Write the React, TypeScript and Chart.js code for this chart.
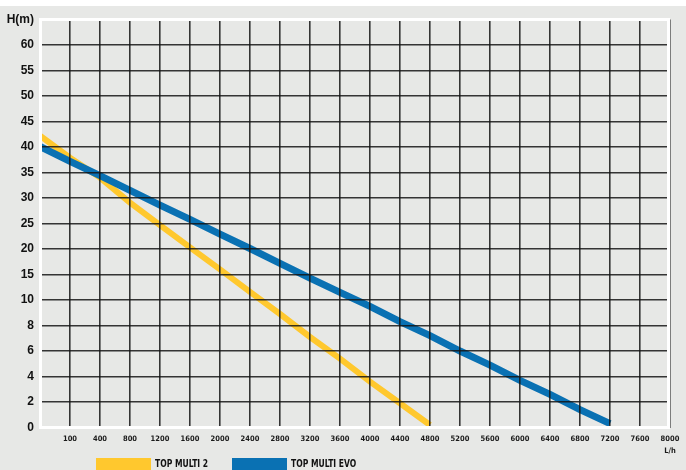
import React, { useEffect, useRef } from "react";
import { Chart, registerables } from "chart.js";

Chart.register(...registerables);

// ---- data ----
const FLOW_TICKS = [0, 100, 400, 800, 1200, 1600, 2000, 2400, 2800, 3200, 3600, 4000, 4400, 4800, 5200, 5600, 6000, 6400, 6800, 7200, 7600, 8000];
const HEAD_TICKS = [0, 2, 4, 6, 8, 10, 15, 20, 25, 30, 35, 40, 45, 50, 55, 60, 65];
const FLOW_UNIT = "L/h";
const HEAD_UNIT = "H(m)";

const MULTI2_NAME = "TOP MULTI 2";
const MULTI2_FLOW = [0, 100, 400, 800, 1200, 1600, 2000, 2400, 2800, 3200, 3600, 4000, 4400, 4800];
const MULTI2_HEAD = [42.2, 37.9, 34.0, 29.1, 24.7, 20.3, 16.0, 11.6, 8.9, 7.1, 5.4, 3.6, 1.9, 0.2];

const EVO_NAME = "TOP MULTI EVO";
const EVO_FLOW = [0, 100, 400, 800, 1200, 1600, 2000, 2400, 2800, 3200, 3600, 4000, 4400, 4800, 5200, 5600, 6000, 6400, 6800, 7200];
const EVO_HEAD = [40.1, 37.2, 34.4, 31.5, 28.6, 25.8, 22.9, 20.1, 17.2, 14.3, 11.5, 9.5, 8.3, 7.2, 6.0, 4.9, 3.7, 2.6, 1.4, 0.3];

const YELLOW = "#FFC82E";
const BLUE = "#0A71B3";
const BG = "#e7e8e6";

// piecewise mapping of a value onto the evenly spaced tick index axis
function toPos(v: number, ticks: number[]): number {
  for (let i = 1; i < ticks.length; i++) {
    if (v <= ticks[i]) {
      return i - 1 + (v - ticks[i - 1]) / (ticks[i] - ticks[i - 1]);
    }
  }
  return ticks.length - 1;
}

function series(flows: number[], heads: number[]) {
  return flows.map((f, i) => ({ x: toPos(f, FLOW_TICKS), y: toPos(heads[i], HEAD_TICKS) }));
}

const LABEL_FONT = '"Liberation Sans Narrow", "DejaVu Sans Condensed", "Liberation Sans", sans-serif';

const framePlugin = {
  id: "whiteFrame",
  afterDraw(chart: any) {
    const { ctx, chartArea } = chart;
    ctx.save();
    ctx.strokeStyle = "#ffffff";
    ctx.lineWidth = 3;
    ctx.strokeRect(chartArea.left + 0.5, chartArea.top, chartArea.right - chartArea.left - 2, chartArea.bottom - chartArea.top);
    ctx.restore();
  },
};

export default function App() {
  const ref = useRef<HTMLCanvasElement | null>(null);

  useEffect(() => {
    if (!ref.current) return;
    const chart = new Chart(ref.current, {
      type: "line",
      data: {
        datasets: [
          {
            label: MULTI2_NAME,
            data: series(MULTI2_FLOW, MULTI2_HEAD),
            borderColor: YELLOW,
            backgroundColor: YELLOW,
            borderWidth: 6,
            pointRadius: 0,
            tension: 0,
            order: 2,
          },
          {
            label: EVO_NAME,
            data: series(EVO_FLOW, EVO_HEAD),
            borderColor: BLUE,
            backgroundColor: BLUE,
            borderWidth: 7,
            pointRadius: 0,
            tension: 0,
            order: 1,
          },
        ],
      },
      options: {
        responsive: false,
        animation: false,
        layout: { padding: { top: 19.5, right: 16, left: 0, bottom: 0 } },
        plugins: {
          legend: { display: false },
          tooltip: { enabled: false },
        },
        scales: {
          x: {
            type: "linear",
            min: 0,
            max: FLOW_TICKS.length - 1,
            afterFit(scale: any) {
              scale.height = 42.5;
            },
            border: { display: false },
            grid: {
              color: "rgba(20,20,20,0.85)",
              lineWidth: 1.6,
              drawTicks: false,
              z: 1,
            },
            ticks: {
              stepSize: 1,
              autoSkip: false,
              maxRotation: 0,
              padding: 5,
              color: "#1a1a1a",
              font: { family: LABEL_FONT, size: 7.5, weight: "bold", lineHeight: 1.65 },
              callback: (v: any) => {
                const i = Math.round(Number(v));
                if (i === 0) return "";
                if (i === FLOW_TICKS.length - 1) return [String(FLOW_TICKS[i]), FLOW_UNIT];
                return String(FLOW_TICKS[i]);
              },
            },
          },
          y: {
            type: "linear",
            min: 0,
            max: HEAD_TICKS.length - 1,
            afterFit(scale: any) {
              scale.width = 40;
            },
            border: { display: false },
            grid: {
              color: "rgba(20,20,20,0.85)",
              lineWidth: 1.6,
              drawTicks: false,
              z: 1,
            },
            ticks: {
              stepSize: 1,
              autoSkip: false,
              padding: 6,
              color: "#111111",
              font: { family: '"Liberation Sans", Arial, sans-serif', size: 12, weight: "bold" },
              callback: (v: any) => {
                const i = Math.round(Number(v));
                if (i === HEAD_TICKS.length - 1) return HEAD_UNIT;
                return String(HEAD_TICKS[i]);
              },
            },
          },
        },
      },
      plugins: [framePlugin],
    } as any);
    return () => chart.destroy();
  }, []);

  const legendItems = [
    { name: MULTI2_NAME, color: YELLOW, left: 96 },
    { name: EVO_NAME, color: BLUE, left: 232 },
  ];

  return (
    <div
      style={{
        position: "absolute",
        left: 0,
        top: 0,
        width: 686,
        height: 470,
        overflow: "hidden",
        background: `linear-gradient(#ffffff 0px, #ffffff 6px, ${BG} 6px)`,
      }}
    >
      <canvas ref={ref} width={686} height={470} style={{ position: "absolute", left: 0, top: 0 }} />
      {legendItems.map((it) => (
        <div key={it.name} style={{ position: "absolute", left: it.left, top: 458, display: "flex", alignItems: "flex-start" }}>
          <div style={{ width: 55, height: 14, background: it.color }} />
          <span
            style={{
              marginLeft: 4,
              marginTop: -1,
              fontFamily: LABEL_FONT,
              fontWeight: "bold",
              fontSize: 11,
              lineHeight: "13px",
              color: "#111",
              whiteSpace: "nowrap",
              display: "inline-block",
              transform: "scaleX(0.77)",
              transformOrigin: "left top",
            }}
          >
            {it.name}
          </span>
        </div>
      ))}
    </div>
  );
}
